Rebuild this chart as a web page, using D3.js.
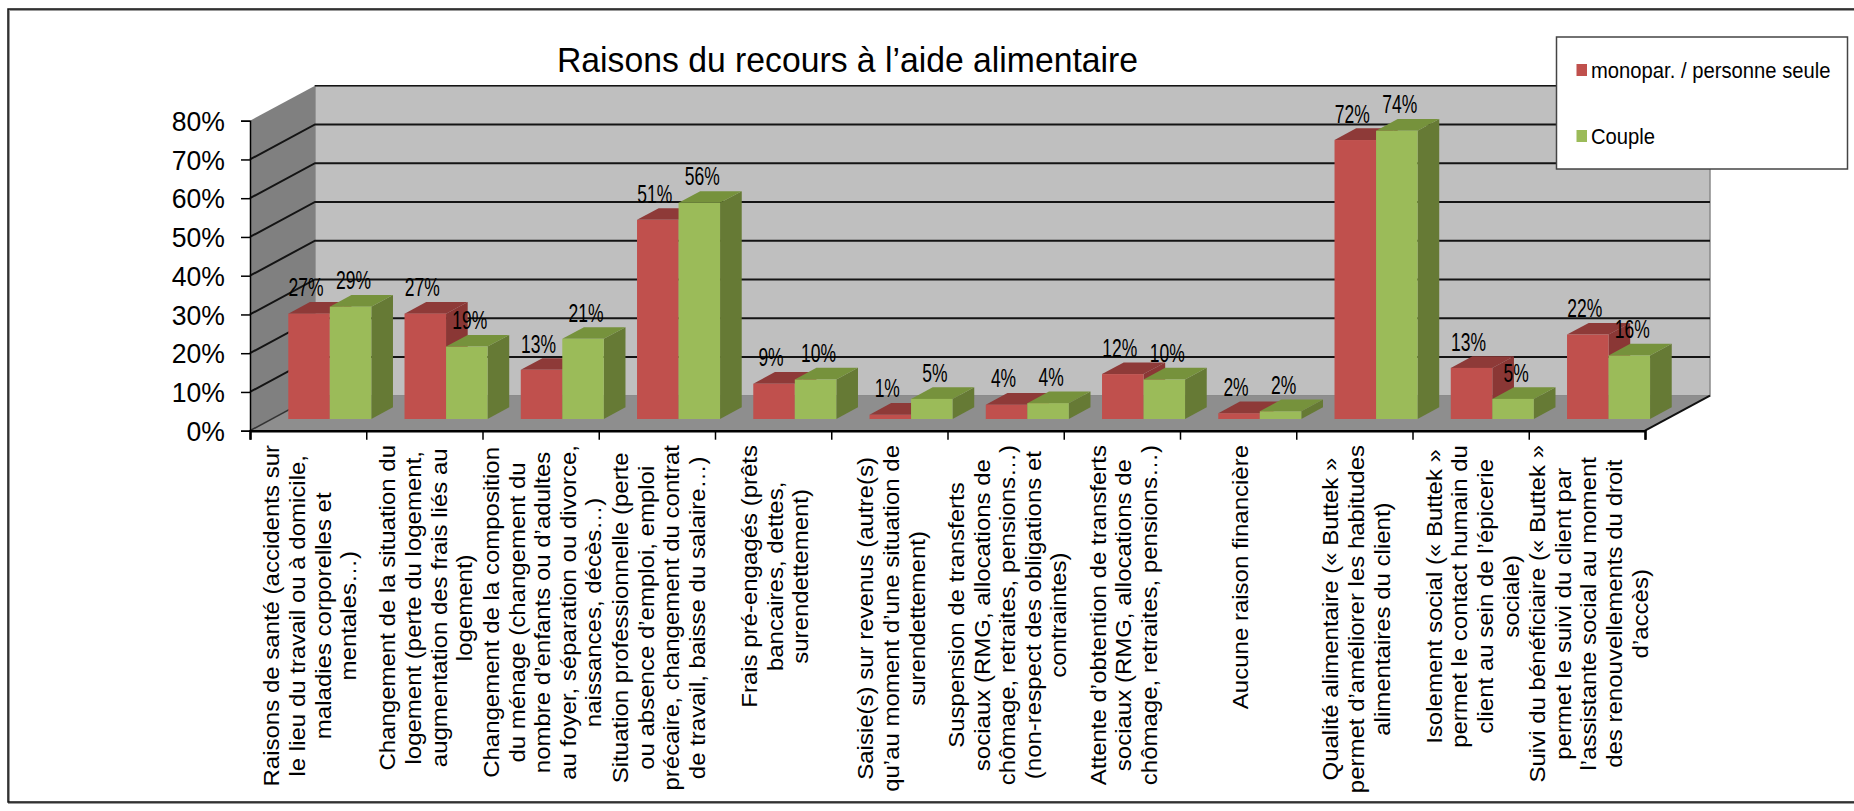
<!DOCTYPE html>
<html>
<head>
<meta charset="utf-8">
<script src="https://cdn.jsdelivr.net/npm/d3@7"></script>
<style>
  html, body { margin: 0; background: #fff; }
  svg { display: block; }
  text { font-family: "Liberation Sans", Arial, sans-serif; fill: #000; }
</style>
</head>
<body>
<svg width="1854" height="811"></svg>
<script>
const title = 'Raisons du recours à l’aide alimentaire';
const seriesNames = ['monopar. / personne seule', 'Couple'];
const categories = [
  ['Raisons de santé (accidents sur', 'le lieu du travail ou à domicile,', 'maladies corporelles et', 'mentales…)'],
  ['Changement de la situation du', 'logement (perte du logement,', 'augmentation des frais liés au', 'logement)'],
  ['Changement de la composition', 'du ménage (changement du', 'nombre d’enfants ou d’adultes', 'au foyer, séparation ou divorce,', 'naissances, décès…)'],
  ['Situation professionnelle (perte', 'ou absence d’emploi, emploi', 'précaire, changement du contrat', 'de travail,  baisse du salaire…)'],
  ['Frais pré-engagés (prêts', 'bancaires, dettes,', 'surendettement)'],
  ['Saisie(s) sur revenus (autre(s)', 'qu’au moment d’une situation de', 'surendettement)'],
  ['Suspension de transferts', 'sociaux (RMG, allocations de', 'chômage, retraites, pensions…)', '(non-respect des obligations et', 'contraintes)'],
  ['Attente d’obtention de transferts', 'sociaux (RMG, allocations de', 'chômage, retraites, pensions…)'],
  ['Aucune raison financière'],
  ['Qualité alimentaire (« Buttek »', 'permet d’améliorer les habitudes', 'alimentaires du client)'],
  ['Isolement social (« Buttek »', 'permet le contact humain du', 'client au sein de l’épicerie', 'sociale)'],
  ['Suivi du bénéficiaire (« Buttek »', 'permet le suivi du client par', 'l’assistante social au moment', 'des renouvellements du droit', 'd’accès)']
];
const monopar = [27.2, 27.2, 12.7, 51.4, 9.1, 1.1, 3.7, 11.6, 1.5, 72, 13.2, 21.8];
const couple = [29, 18.7, 20.7, 55.8, 10.2, 5.2, 4.1, 10.2, 2, 74.4, 5.2, 16.4];
const yTicks = [0, 10, 20, 30, 40, 50, 60, 70, 80];
const colors = [
  { front: '#c0504d', top: '#8e3a38', side: '#8a3735' },
  { front: '#9bbb59', top: '#76923c', side: '#667a35' }
];

const svg = d3.select('svg');

// front plane of the chart box, the back wall is shifted by depth
const plot = { left: 250, right: 1645, top: 120.7, bottom: 430.7 };
const depth = { x: 65, y: -35 };
const labelTop = 445;

const x = d3.scaleBand().domain(d3.range(categories.length)).range([plot.left, plot.right]);
const y = d3.scaleLinear().domain([0, 80]).range([plot.bottom, plot.top]);

const poly = pts => pts.map(p => p.join(',')).join(' ');

// outer frame, the right side runs off the picture
svg.append('path').attr('d', 'M1854,10H9V803H1854').attr('fill', 'none').attr('stroke', '#999').attr('stroke-width', 2);
svg.append('path').attr('d', 'M1854,9H8V802H1854').attr('fill', 'none').attr('stroke', '#111').attr('stroke-width', 1.5);

svg.append('text').attr('x', 557).attr('y', 72)
  .attr('font-size', 35).attr('textLength', 581).attr('lengthAdjust', 'spacingAndGlyphs')
  .text(title);

const walls = svg.append('g');
// back wall
walls.append('polygon')
  .attr('points', poly([
    [plot.left + depth.x, y(80) + depth.y], [plot.right + depth.x, y(80) + depth.y],
    [plot.right + depth.x, y(0) + depth.y], [plot.left + depth.x, y(0) + depth.y]]))
  .attr('fill', '#bfbfbf').attr('stroke', '#8a8a8a').attr('stroke-width', 1.5);
// left wall
walls.append('polygon')
  .attr('points', poly([
    [plot.left, y(80)], [plot.left + depth.x, y(80) + depth.y],
    [plot.left + depth.x, y(0) + depth.y], [plot.left, y(0)]]))
  .attr('fill', '#808080');
// floor
walls.append('polygon')
  .attr('points', poly([
    [plot.left, y(0)], [plot.left + depth.x, y(0) + depth.y],
    [plot.right + depth.x, y(0) + depth.y], [plot.right, y(0)]]))
  .attr('fill', '#8e8e8e');

// grid lines run along the left wall then the back wall
walls.selectAll('.grid').data(yTicks.filter(d => d > 0)).join('polyline')
  .attr('class', 'grid')
  .attr('fill', 'none')
  .attr('stroke', '#141414')
  .attr('stroke-width', d => d === 80 ? 1.5 : 2)
  .attr('points', d => d === 80
    ? poly([[plot.left + depth.x, y(d) + depth.y], [plot.right + depth.x, y(d) + depth.y]])
    : poly([[plot.left, y(d)], [plot.left + depth.x, y(d) + depth.y], [plot.right + depth.x, y(d) + depth.y]]));
walls.append('line')
  .attr('x1', plot.left).attr('y1', y(0)).attr('x2', plot.left + depth.x).attr('y2', y(0) + depth.y)
  .attr('stroke', '#333').attr('stroke-width', 1.5);
walls.append('line')
  .attr('x1', plot.right).attr('y1', y(0)).attr('x2', plot.right + depth.x).attr('y2', y(0) + depth.y)
  .attr('stroke', '#111').attr('stroke-width', 2);

// axes
const yAxis = svg.append('g').attr('transform', `translate(${plot.left},0)`)
  .call(d3.axisLeft(y).tickValues(yTicks).tickSize(9).tickFormat(d => d + '%'));
yAxis.selectAll('path, line').attr('stroke', '#000').attr('stroke-width', 1.5);
yAxis.selectAll('text')
  .attr('x', null).attr('dy', null)
  .attr('text-anchor', 'end').attr('dominant-baseline', 'central')
  .attr('font-size', 28)
  .attr('fill', '#111')
  .attr('transform', 'translate(-25,0) scale(0.95,1)');

const xAxis = svg.append('g').attr('transform', `translate(0,${plot.bottom})`)
  .call(d3.axisBottom(d3.scaleLinear().domain([0, categories.length]).range([plot.left, plot.right]))
    .tickValues(d3.range(categories.length + 1)).tickSize(9).tickFormat(''));
xAxis.selectAll('path, line').attr('stroke', '#000').attr('stroke-width', 1.5);
xAxis.select('path').attr('stroke-width', 2.5);

// bars sit in the middle third of the depth, with a 40% gap on the band
const barDepth = { x: depth.x / 3, y: depth.y / 3 };
const barWidth = x.bandwidth() / 2.8;
const barPad = (x.bandwidth() - 2 * barWidth) / 2;
const barsLayer = svg.append('g');
const labelsLayer = svg.append('g');

categories.forEach((c, i) => {
  [monopar[i], couple[i]].forEach((v, s) => {
    const x0 = x(i) + barDepth.x + barPad + s * barWidth;
    const x1 = x0 + barWidth;
    const y0 = y(0) + barDepth.y;
    const yTop = y0 - (y(0) - y(v));
    const bar = barsLayer.append('g');
    bar.append('polygon')
      .attr('points', poly([[x1, y0], [x1 + barDepth.x, y0 + barDepth.y], [x1 + barDepth.x, yTop + barDepth.y], [x1, yTop]]))
      .attr('fill', colors[s].side);
    bar.append('polygon')
      .attr('points', poly([[x0, yTop], [x0 + barDepth.x, yTop + barDepth.y], [x1 + barDepth.x, yTop + barDepth.y], [x1, yTop]]))
      .attr('fill', colors[s].top);
    bar.append('rect')
      .attr('x', x0).attr('y', yTop).attr('width', barWidth).attr('height', y0 - yTop)
      .attr('fill', colors[s].front);
    labelsLayer.append('text')
      .attr('font-size', 25)
      .attr('text-anchor', 'middle')
      .attr('dominant-baseline', 'central')
      .attr('fill', '#222')
      .attr('transform', `translate(${(x0 + x1) / 2 + (s ? 3 : -3)},${yTop - 26}) scale(0.7,1)`)
      .text(Math.round(v) + '%');
  });
});

// rotated category labels, the longest line of each starts right under the axis
const catLabels = svg.append('g').selectAll('g').data(categories).join('g');
catLabels.each(function (lines, i) {
  const g = d3.select(this);
  const lineStep = 28.5;
  const texts = g.selectAll('text').data(lines).join('text')
    .attr('font-size', 24)
    .attr('text-anchor', 'middle')
    .attr('dominant-baseline', 'central')
    .attr('fill', '#111')
    .attr('y', (d, k) => (k - (lines.length - 1) / 2) * lineStep)
    .text(d => d);
  const longest = d3.max(texts.nodes(), n => n.getComputedTextLength());
  texts.attr('x', -longest / 2);
  g.attr('transform', `translate(${x(i) + x.bandwidth() / 2 + 2},${labelTop}) rotate(-90) scale(1,0.9)`);
});

// legend
const legend = svg.append('g');
legend.append('rect').attr('x', 1556.5).attr('y', 37).attr('width', 291).attr('height', 132)
  .attr('fill', '#fff').attr('stroke', '#444').attr('stroke-width', 1.5);
const legendY = d3.scalePoint().domain(seriesNames).range([70, 136]);
seriesNames.forEach((name, s) => {
  legend.append('rect')
    .attr('x', 1576.5).attr('y', legendY(name) - 6).attr('width', 10.5).attr('height', 12)
    .attr('fill', colors[s].front);
  legend.append('text')
    .attr('transform', `translate(1591,${legendY(name)}) scale(0.92,1)`)
    .attr('dominant-baseline', 'central')
    .attr('font-size', 22)
    .attr('fill', '#222')
    .text(name);
});
</script>
</body>
</html>
